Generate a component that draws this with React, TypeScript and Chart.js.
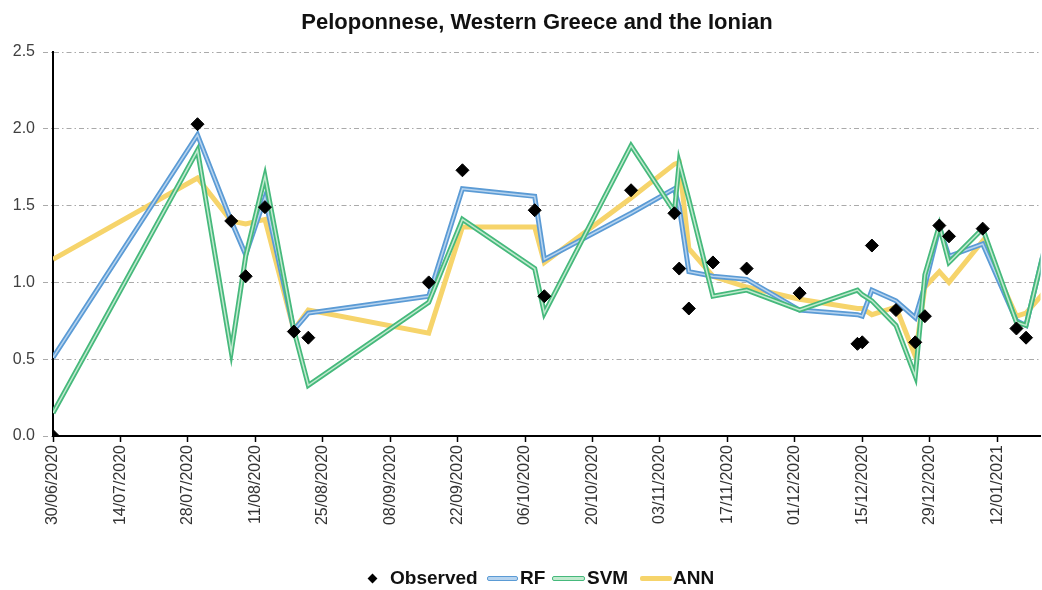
import React, { useEffect, useRef } from "react";
import { Chart, registerables } from "chart.js";

Chart.register(...registerables);

const dates = [
  "2020-06-30", "2020-07-30", "2020-08-06", "2020-08-09", "2020-08-13", "2020-08-19",
  "2020-08-22", "2020-09-16", "2020-09-23", "2020-10-08", "2020-10-10", "2020-10-28",
  "2020-11-06", "2020-11-07", "2020-11-09", "2020-11-14", "2020-11-21", "2020-12-02",
  "2020-12-14", "2020-12-15", "2020-12-17", "2020-12-22", "2020-12-26", "2020-12-28",
  "2020-12-31", "2021-01-02", "2021-01-09", "2021-01-16", "2021-01-18", "2021-01-23",
];

const observed = [
  0.0, 2.03, 1.4, 1.04, 1.49, 0.68, 0.64, 1.0, 1.73, 1.47, 0.91, 1.6, 1.45, 1.09, 0.83,
  1.13, 1.09, 0.93, 0.6, 0.61, 1.24, 0.82, 0.61, 0.78, 1.37, 1.3, 1.35, 0.7, 0.64, null,
];

const rf = [
  0.51, 1.96, 1.4, 1.18, 1.55, 0.69, 0.8, 0.91, 1.61, 1.56, 1.15, 1.45, 1.61, 1.49, 1.07,
  1.04, 1.02, 0.82, 0.79, 0.78, 0.95, 0.88, 0.77, 0.98, 1.36, 1.17, 1.25, 0.75, 0.72, 1.37,
];

const svm = [
  0.15, 1.86, 0.55, 1.17, 1.69, 0.69, 0.33, 0.87, 1.41, 1.09, 0.8, 1.89, 1.46, 1.78, 1.54,
  0.91, 0.95, 0.82, 0.95, 0.92, 0.88, 0.72, 0.39, 1.05, 1.37, 1.13, 1.35, 0.74, 0.72, 1.37,
];

const ann = [
  1.15, 1.68, 1.4, 1.38, 1.41, 0.69, 0.82, 0.67, 1.36, 1.36, 1.13, 1.55, 1.77, 1.78, 1.22,
  1.04, 0.97, 0.89, 0.83, 0.83, 0.79, 0.84, 0.52, 0.97, 1.07, 1.0, 1.27, 0.78, 0.8, 0.98,
];

const yTicks = [0, 0.5, 1.0, 1.5, 2.0, 2.5];

const BASE = Date.UTC(2020, 5, 30);
const DAY = 86400000;
const X_MAX_DAYS = 205;
const X_STEP = 14;

function dayOf(s: string): number {
  const [y, m, d] = s.split("-").map(Number);
  return (Date.UTC(y, m - 1, d) - BASE) / DAY;
}

function fmtDay(v: number): string {
  const dt = new Date(BASE + v * DAY);
  const dd = String(dt.getUTCDate()).padStart(2, "0");
  const mm = String(dt.getUTCMonth() + 1).padStart(2, "0");
  return `${dd}/${mm}/${dt.getUTCFullYear()}`;
}

function pts(vals: (number | null)[]) {
  return dates.map((d, i) => ({ x: dayOf(d), y: vals[i] }));
}

const FONT = '"Liberation Sans", Arial, sans-serif';
const BLUE = "#5b9bd5";
const BLUE_IN = "#b7d4ef";
const GREEN = "#46b97c";
const GREEN_IN = "#c2eacf";
const YELLOW = "#f6d46b";
const DASH = [5, 3, 1.5, 3];

export default function App() {
  const ref = useRef<HTMLCanvasElement>(null);

  useEffect(() => {
    if (!ref.current) return;
    const lineBase = { pointRadius: 0, pointHoverRadius: 0, tension: 0, fill: false, showLine: true };
    const chart = new Chart(ref.current, {
      type: "line",
      data: {
        datasets: [
          {
            label: "Observed",
            data: pts(observed),
            showLine: false,
            pointStyle: "rectRot",
            pointRadius: 6.5,
            pointBackgroundColor: "#000",
            pointBorderColor: "#000",
            borderColor: "#000",
            backgroundColor: "#000",
          },
          { label: "SVM-in", data: pts(svm), borderColor: GREEN_IN, borderWidth: 1.5, ...lineBase },
          { label: "SVM", data: pts(svm), borderColor: GREEN, borderWidth: 5, ...lineBase },
          { label: "RF-in", data: pts(rf), borderColor: BLUE_IN, borderWidth: 1.5, ...lineBase },
          { label: "RF", data: pts(rf), borderColor: BLUE, borderWidth: 5, ...lineBase },
          { label: "ANN", data: pts(ann), borderColor: YELLOW, borderWidth: 5, ...lineBase },
        ] as any,
      },
      options: {
        animation: false,
        responsive: true,
        maintainAspectRatio: false,
        spanGaps: false,
        layout: { padding: { top: 52, left: 8, right: 0, bottom: 54 } },
        plugins: {
          legend: { display: false },
          tooltip: { enabled: false },
          title: { display: false },
        },
        scales: {
          x: {
            type: "linear",
            min: 0,
            max: X_MAX_DAYS,
            afterBuildTicks: (scale: any) => {
              scale.ticks = scale.ticks.filter((t: any) => t.value % X_STEP === 0);
            },
            afterFit: (scale: any) => {
              scale.height = 100;
            },
            ticks: {
              stepSize: X_STEP,
              autoSkip: false,
              maxRotation: 90,
              minRotation: 90,
              padding: 3,
              color: "#333",
              font: { family: FONT, size: 16 },
              callback: (v: any) => fmtDay(Number(v)),
            },
            grid: {
              display: true,
              drawOnChartArea: false,
              drawTicks: true,
              tickLength: 6,
              tickColor: "#000",
              tickWidth: 1.5,
            },
            border: { display: true, color: "#000", width: 2 },
          },
          y: {
            type: "linear",
            min: 0,
            max: 2.5,
            afterBuildTicks: (scale: any) => {
              scale.ticks = yTicks.map((v) => ({ value: v }));
            },
            afterFit: (scale: any) => {
              scale.width = 45;
            },
            ticks: {
              stepSize: 0.5,
              padding: 8,
              color: "#404040",
              font: { family: FONT, size: 16 },
              callback: (v: any) => Number(v).toFixed(1),
            },
            grid: {
              color: "#aaaaaa",
              lineWidth: 1,
              tickLength: 10,
              tickColor: "#aaaaaa",
              tickBorderDash: DASH,
            } as any,
            border: { display: true, color: "#000", width: 2, dash: DASH },
          },
        },
      } as any,
    });
    return () => chart.destroy();
  }, []);

  const textStyle: React.CSSProperties = {
    position: "absolute",
    top: 567,
    fontFamily: FONT,
    fontWeight: "bold",
    fontSize: 19,
    lineHeight: "22px",
    color: "#111",
    whiteSpace: "nowrap",
  };
  const swatch = (left: number, width: number, outer: string, inner: string | null): React.CSSProperties => ({
    position: "absolute",
    top: 575.5,
    left,
    width,
    height: 5,
    boxSizing: "border-box",
    borderRadius: 2,
    background: inner ? inner : outer,
    border: inner ? `1.6px solid ${outer}` : "none",
  });

  return (
    <div
      style={{
        position: "fixed",
        left: 0,
        top: 0,
        width: 1042,
        height: 590,
        background: "#fff",
        overflow: "hidden",
      }}
    >
      <div style={{ position: "absolute", left: 0, top: 0, width: 1048, height: 590 }}>
        <canvas ref={ref} />
      </div>
      <div
        style={{
          position: "absolute",
          left: 237,
          top: 8,
          width: 600,
          textAlign: "center",
          fontFamily: FONT,
          fontWeight: "bold",
          fontSize: 22,
          lineHeight: "28px",
          color: "#111",
          whiteSpace: "nowrap",
        }}
      >
        Peloponnese, Western Greece and the Ionian
      </div>
      <div
        style={{
          position: "absolute",
          left: 368.5,
          top: 574.5,
          width: 7,
          height: 7,
          background: "#000",
          transform: "rotate(45deg)",
        }}
      />
      <div style={{ ...textStyle, left: 390 }}>Observed</div>
      <div style={swatch(487, 31, BLUE, BLUE_IN)} />
      <div style={{ ...textStyle, left: 520 }}>RF</div>
      <div style={swatch(552, 33, GREEN, GREEN_IN)} />
      <div style={{ ...textStyle, left: 587 }}>SVM</div>
      <div style={swatch(640, 32, YELLOW, null)} />
      <div style={{ ...textStyle, left: 673 }}>ANN</div>
    </div>
  );
}
